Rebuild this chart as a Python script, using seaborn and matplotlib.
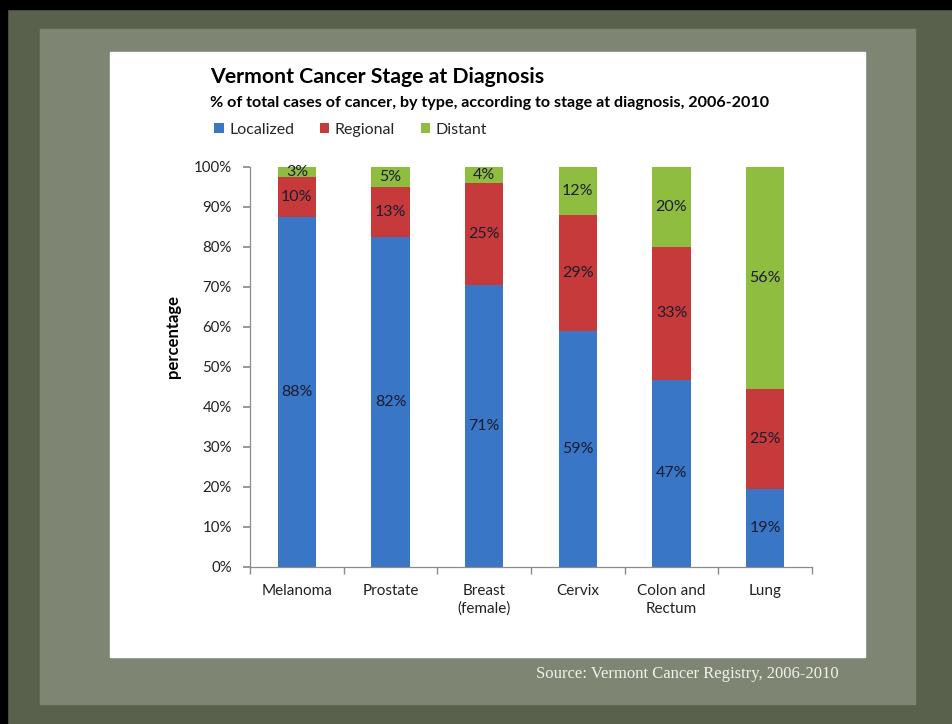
import matplotlib
matplotlib.use("Agg")
import matplotlib.pyplot as plt
from matplotlib.patches import Rectangle, Patch
import pandas as pd
import seaborn as sns

# ---------- data
cancers = ["Melanoma", "Prostate", "Breast\n(female)", "Cervix", "Colon and\nRectum", "Lung"]
localized = [87.6, 82.4, 70.6, 59.0, 46.8, 19.4]
regional = [9.8, 12.7, 25.4, 29.0, 33.2, 25.0]
distant = [2.6, 4.9, 4.0, 12.0, 20.0, 55.6]
stages = ["Localized", "Regional", "Distant"]
colors = {"Localized": "#3a76c6", "Regional": "#c73a3b", "Distant": "#8fbd3f"}

df = pd.DataFrame({"cancer": cancers, "Localized": localized,
                   "Regional": regional, "Distant": distant})
df["top_reg"] = df["Localized"] + df["Regional"]
df["top_dist"] = df["top_reg"] + df["Distant"]

sns.set_theme(style="white")
plt.rcParams["font.family"] = ["Lato", "DejaVu Sans"]

fig = plt.figure(figsize=(9.53, 7.24), dpi=100)
fig.patch.set_facecolor("#59614d")

# slide frame: darker rim, lighter inner field, black scan edge
fig.patches.append(Rectangle((40 / 953, 20 / 724), 875 / 953, 675 / 724,
                             transform=fig.transFigure, color="#7e8573", zorder=0))
fig.patches.append(Rectangle((0, 715 / 724), 1, 9 / 724,
                             transform=fig.transFigure, color="black", zorder=1))
fig.patches.append(Rectangle((0, 0), 7 / 953, 1,
                             transform=fig.transFigure, color="black", zorder=1))
# white chart panel
fig.patches.append(Rectangle((110 / 953, 1 - 657 / 724), 755 / 953, 605 / 724,
                             transform=fig.transFigure, color="white", zorder=1))

ax = fig.add_axes([250 / 953, 1 - 567 / 724, 562 / 953, 400 / 724])
ax.set_facecolor("none")
ax.set_zorder(2)

# stacked bars: draw the cumulative totals from the top down
for col, stage in [("top_dist", "Distant"), ("top_reg", "Regional"), ("Localized", "Localized")]:
    sns.barplot(data=df, x="cancer", y=col, color=colors[stage], width=0.41,
                linewidth=0, saturation=1, ax=ax)

# segment labels, centred in each segment
lows = {"Localized": [0] * 6, "Regional": localized, "Distant": list(df["top_reg"])}
for stage in stages:
    for i, v in enumerate(df[stage]):
        y = lows[stage][i] + v / 2
        ax.text(i, y, f"{round(v):.0f}%", ha="center", va="center",
                fontsize=11.5, color="#1c1c30")

ax.set_ylim(0, 100)
ax.set_xlim(-0.5, 5.5)
ax.set_yticks(range(0, 101, 10))
ax.set_yticklabels([f"{t}%" for t in range(0, 101, 10)], fontsize=10.8, color="#222222")
ax.set_xticks(range(6))
ax.set_xticklabels(cancers, fontsize=11, color="#222222", linespacing=1.35)
ax.set_xlabel("")
ax.set_ylabel("")

for s in ["top", "right"]:
    ax.spines[s].set_visible(False)
for s in ["left", "bottom"]:
    ax.spines[s].set_color("#8c8c8c")
    ax.spines[s].set_linewidth(0.9)

ax.tick_params(axis="y", which="both", left=True, length=5, color="#8c8c8c", pad=8)
ax.tick_params(axis="x", bottom=False, pad=6)
# category separators on the x axis
ax.set_xticks([i - 0.5 for i in range(7)], minor=True)
ax.tick_params(axis="x", which="minor", bottom=True, length=5, color="#8c8c8c")

fig.text(173 / 953, 1 - 337 / 724, "percentage", rotation=90, fontsize=12,
         fontweight="bold", color="black", ha="center", va="center")

fig.text(210 / 953, 1 - 77 / 724, "Vermont Cancer Stage at Diagnosis",
         fontsize=15.3, fontweight="bold", color="black", va="center")
fig.text(210 / 953, 1 - 103 / 724,
         "% of total cases of cancer, by type, according to stage at diagnosis, 2006-2010",
         fontsize=11.6, fontweight="bold", color="black", va="center")

handles = [Patch(facecolor=colors[s], edgecolor="none", label=s) for s in stages]
fig.legend(handles=handles, loc="center left", bbox_to_anchor=(214 / 953, 1 - 130 / 724),
           ncol=3, frameon=False, fontsize=11.5, handlelength=0.6, handleheight=0.6,
           handletextpad=0.35, columnspacing=1.6, borderaxespad=0, borderpad=0)

fig.text(536 / 953, 1 - 674 / 724, "Source: Vermont Cancer Registry, 2006-2010",
         fontsize=12, color="#f2f2ea", va="center", family=["Liberation Serif"])

fig.savefig("out.png", dpi=100, facecolor=fig.get_facecolor())
